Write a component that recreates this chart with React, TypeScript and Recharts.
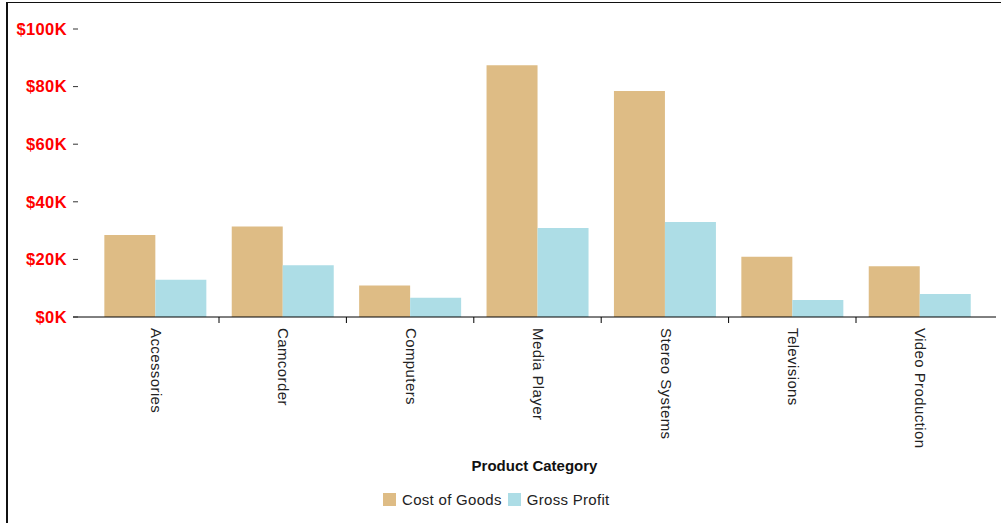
import React from 'react';
import { BarChart, Bar, XAxis, YAxis, Legend, Label } from 'recharts';

const categories = ['Accessories', 'Camcorder', 'Computers', 'Media Player', 'Stereo Systems', 'Televisions', 'Video Production'];
const costOfGoods = [28500, 31400, 10900, 87400, 78500, 20900, 17600];
const grossProfit = [12900, 18000, 6700, 30900, 33000, 5900, 8000];
const yTicks = [0, 20000, 40000, 60000, 80000, 100000];
const seriesNames = ['Cost of Goods', 'Gross Profit'];
const seriesColors = ['#DEBC85', '#ADDDE6'];
const axisTitle = 'Product Category';

const data = categories.map((c, i) => ({ category: c, cost: costOfGoods[i], profit: grossProfit[i] }));

const FONT = '"Liberation Sans", Arial, Helvetica, sans-serif';
const CHART_W = 1001;
const CHART_H = 523;
const MARGIN = { top: 29, right: 5, bottom: 52, left: 0 };
const Y_W = 73;
const X_H = 154;
const PAD = { left: 18.6, right: 12.6 };
const BAND = (CHART_W - MARGIN.left - MARGIN.right - Y_W - PAD.left - PAD.right) / categories.length;

const XTick = (props: any) => {
  const { x, y, payload, index } = props;
  const i = payload && payload.index !== undefined ? payload.index : index;
  return (
    <g>
      {i > 0 && <line x1={x - BAND / 2} x2={x - BAND / 2} y1={y} y2={y + 6} stroke="#000" strokeWidth={1} />}
      <text
        transform={`translate(${x + 1},${y + 11}) rotate(90)`}
        dy="0.35em"
        textAnchor="start"
        fontFamily={FONT}
        fontSize={15}
        letterSpacing={0.4}
        fill="#222"
      >
        {payload.value}
      </text>
    </g>
  );
};

const YTick = (props: any) => {
  const { x, y, payload } = props;
  return (
    <g>
      <line x1={x} x2={x + 5} y1={y} y2={y} stroke="#333" strokeWidth={1} />
      <text x={x - 6} y={y} dy="0.35em" textAnchor="end" fontFamily={FONT} fontSize={16.5} letterSpacing={0.4} fontWeight="bold" fill="#FF0000">
        {`$${payload.value / 1000}K`}
      </text>
    </g>
  );
};

const AxisTitle = (props: any) => {
  const vb = props.viewBox || {};
  return (
    <text
      x={vb.x + vb.width / 2}
      y={vb.y + 149}
      dy="0.35em"
      textAnchor="middle"
      fontFamily={FONT}
      fontSize={15}
      fontWeight="bold"
      fill="#111"
    >
      {axisTitle}
    </text>
  );
};

const LegendContent = () => (
  <div style={{ display: 'flex', alignItems: 'center', fontFamily: FONT, fontSize: 15, color: '#222', whiteSpace: 'nowrap' }}>
    {seriesNames.map((n, i) => (
      <div key={n} style={{ display: 'flex', alignItems: 'center', marginRight: 6 }}>
        <div style={{ width: 13, height: 13, background: seriesColors[i], marginRight: 6 }} />
        <span style={{ letterSpacing: 0.3 }}>{n}</span>
      </div>
    ))}
  </div>
);

export default function App() {
  return (
    <div style={{ position: 'fixed', left: 0, top: 0, width: CHART_W, height: CHART_H, overflow: 'hidden', background: '#fff' }}>
      <div
        style={{
          position: 'absolute',
          left: 6,
          top: 2,
          width: CHART_W - 6,
          height: CHART_H - 2,
          borderTop: '1px solid #111',
          borderLeft: '2px solid #111',
          boxSizing: 'border-box',
        }}
      />
      <div style={{ position: 'absolute', left: 0, top: 0 }}>
        <BarChart width={CHART_W} height={CHART_H} data={data} margin={MARGIN} barCategoryGap="10%" barGap={0}>
          <XAxis
            dataKey="category"
            height={X_H}
            interval={0}
            padding={PAD}
            tickLine={false}
            tickSize={0}
            tickMargin={0}
            axisLine={{ stroke: '#000', strokeWidth: 1 }}
            tick={<XTick />}
          >
            <Label content={<AxisTitle />} />
          </XAxis>
          <YAxis
            width={Y_W}
            domain={[0, 100000]}
            ticks={yTicks}
            axisLine={false}
            tickLine={false}
            tickSize={0}
            tickMargin={0}
            tick={<YTick />}
          />
          <Legend
            layout="vertical"
            align="center"
            verticalAlign="middle"
            wrapperStyle={{ position: 'absolute', left: 383, top: 491, width: 'auto', height: 18 }}
            content={<LegendContent />}
          />
          <Bar dataKey="cost" name={seriesNames[0]} fill={seriesColors[0]} isAnimationActive={false} />
          <Bar dataKey="profit" name={seriesNames[1]} fill={seriesColors[1]} isAnimationActive={false} />
        </BarChart>
      </div>
    </div>
  );
}
